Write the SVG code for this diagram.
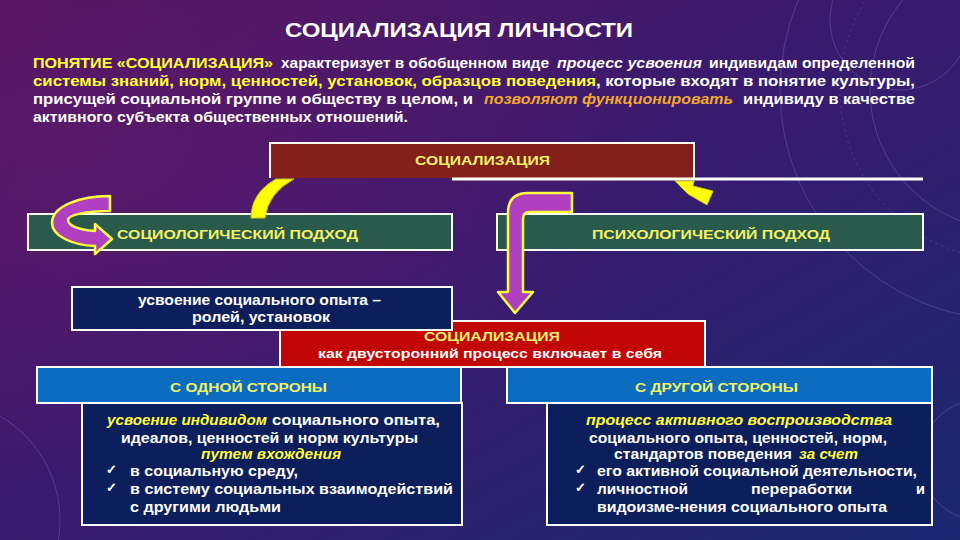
<svg xmlns="http://www.w3.org/2000/svg" width="960" height="540" viewBox="0 0 960 540">
<defs>
<linearGradient id="bg" x1="0" y1="0" x2="1" y2="1">
<stop offset="0" stop-color="#54155f"/>
<stop offset="0.45" stop-color="#3a1a6e"/>
<stop offset="1" stop-color="#1a2870"/>
</linearGradient>
<radialGradient id="glow" cx="0.1" cy="0.3" r="0.6">
<stop offset="0" stop-color="#6a1a70" stop-opacity="0.5"/>
<stop offset="1" stop-color="#6a1a70" stop-opacity="0"/>
</radialGradient>
<style>
text{font-family:"Liberation Sans",Arial,sans-serif;font-weight:bold}
.w{fill:#ffffff}
.y{fill:#ffff33}
.ly{fill:#f2f266}
.o{fill:#f0a830}
.i{font-style:italic}
.p{font-size:14px}
.b{font-size:13px}
.t{font-size:14.5px}
.box{stroke:#ffffff;stroke-width:2}
.parr{fill:#b040c0;stroke:#ffff40;stroke-width:2.5;stroke-linejoin:round}
.yarr{fill:#ffff00;stroke:#c8c800;stroke-width:1}
.deco{fill:none;stroke:#8a7ad0;stroke-opacity:0.35;stroke-width:1}
</style>
</defs>
<rect width="960" height="540" fill="url(#bg)"/>
<rect width="960" height="540" fill="url(#glow)"/>
<g id="decor">
<circle class="deco" cx="1010" cy="90" r="140"/>
<circle class="deco" cx="1010" cy="90" r="170" stroke-dasharray="2 4"/>
<circle class="deco" cx="1010" cy="90" r="230"/>
<circle class="deco" cx="900" cy="20" r="70"/>
<circle class="deco" cx="-60" cy="520" r="120"/>
<circle class="deco" cx="980" cy="460" r="60"/>
</g>

<text class="w" x="285" y="37" font-size="20" textLength="348" lengthAdjust="spacingAndGlyphs">СОЦИАЛИЗАЦИЯ ЛИЧНОСТИ</text>

<g id="intro">
<text class="p y" x="33" y="68" textLength="240" lengthAdjust="spacingAndGlyphs">ПОНЯТИЕ «СОЦИАЛИЗАЦИЯ»</text>
<text class="p w" x="281" y="68" textLength="268" lengthAdjust="spacingAndGlyphs">характеризует в обобщенном виде</text>
<text class="p w i" x="557" y="68" textLength="145" lengthAdjust="spacingAndGlyphs">процесс усвоения</text>
<text class="p w" x="709" y="68" textLength="206" lengthAdjust="spacingAndGlyphs">индивидам определенной</text>
<text class="p y" x="33" y="86" textLength="563" lengthAdjust="spacingAndGlyphs">системы  знаний,  норм,  ценностей,  установок,  образцов  поведения</text>
<text class="p w" x="596" y="86" textLength="319" lengthAdjust="spacingAndGlyphs">,  которые  входят  в  понятие  культуры,</text>
<text class="p w" x="33" y="104" textLength="440" lengthAdjust="spacingAndGlyphs">присущей  социальной  группе  и  обществу  в  целом,  и</text>
<text class="p o i" x="484" y="104" textLength="249" lengthAdjust="spacingAndGlyphs">позволяют  функционировать</text>
<text class="p w" x="743" y="104" textLength="172" lengthAdjust="spacingAndGlyphs">индивиду  в  качестве</text>
<text class="p w" x="33" y="122" textLength="375" lengthAdjust="spacingAndGlyphs">активного субъекта общественных отношений.</text>
</g>

<g id="node-sociological">
<rect class="box" x="28" y="214" width="424" height="36" fill="#2a5a4c"/>
<text class="b ly" x="117" y="239" textLength="241" lengthAdjust="spacingAndGlyphs">СОЦИОЛОГИЧЕСКИЙ ПОДХОД</text>
</g>
<g id="node-psychological">
<rect class="box" x="497" y="214" width="426" height="36" fill="#2a5a4c"/>
<text class="b ly" x="592" y="239" textLength="238" lengthAdjust="spacingAndGlyphs">ПСИХОЛОГИЧЕСКИЙ ПОДХОД</text>
</g>

<g id="connectors">
<path class="yarr" d="M251,218 Q251,193 276,179 L294,179 Q268,193 265,218 Z"/>
<polygon class="yarr" points="675,181 694,181 693,186 713,191 707,205 688,194"/>
<path class="parr" d="M110,196 L110,211 C86,211 68,215 68,220 C68,226 80,230 95,231 L95,224 L112,239 L95,254 L95,246 C72,245 52,236 52,223 C52,206 80,196 110,196 Z"/>
<path class="parr" d="M572,193 L528,193 Q508,193 508,213 L508,292 L498,292 L515,313 L533,292 L523,292 L523,219 Q523,212 530,212 L572,212 Z"/>
</g>

<g id="node-socialization">
<rect x="270" y="143" width="424" height="35" fill="#84201a"/>
<path d="M270,178 L270,143 L694,143 L694,178" fill="none" stroke="#ffffff" stroke-width="2"/>
<line x1="452" y1="179" x2="923" y2="179" stroke="#ffffff" stroke-width="3"/>
<text class="b ly" x="415" y="165" textLength="135" lengthAdjust="spacingAndGlyphs">СОЦИАЛИЗАЦИЯ</text>
</g>

<g id="node-twosided">
<rect class="box" x="280" y="321" width="425" height="46" fill="#c20606"/>
<text class="b ly" x="424" y="341" textLength="136" lengthAdjust="spacingAndGlyphs">СОЦИАЛИЗАЦИЯ</text>
<text class="b w" x="318" y="358" textLength="344" lengthAdjust="spacingAndGlyphs">как двусторонний процесс включает в себя</text>
</g>

<g id="node-experience">
<rect class="box" x="72" y="287" width="380" height="43" fill="#0c1e5c"/>
<text class="p w" x="138" y="305" textLength="243" lengthAdjust="spacingAndGlyphs">усвоение социального опыта –</text>
<text class="p w" x="192" y="322" textLength="138" lengthAdjust="spacingAndGlyphs">ролей, установок</text>
</g>

<g id="node-one-side">
<rect class="box" x="37" y="367" width="424" height="36" fill="#0b6cc0"/>
<text class="b ly" x="170" y="392" textLength="157" lengthAdjust="spacingAndGlyphs">С ОДНОЙ СТОРОНЫ</text>
</g>
<g id="node-one-side-text">
<rect class="box" x="82" y="403" width="380" height="122" fill="#0c1e5c"/>
<text class="t y i" x="107" y="425" textLength="160" lengthAdjust="spacingAndGlyphs">усвоение индивидом</text>
<text class="t w" x="272" y="425" textLength="168" lengthAdjust="spacingAndGlyphs">социального опыта,</text>
<text class="t w" x="121" y="443" textLength="297" lengthAdjust="spacingAndGlyphs">идеалов, ценностей и норм культуры</text>
<text class="t y i" x="201" y="459" textLength="140" lengthAdjust="spacingAndGlyphs">путем вхождения</text>
<text class="w" x="106" y="474" font-size="13" font-family="DejaVu Sans,sans-serif" font-weight="normal">✓</text>
<text class="t w" x="130" y="476" textLength="168" lengthAdjust="spacingAndGlyphs">в социальную среду,</text>
<text class="w" x="106" y="492" font-size="13" font-family="DejaVu Sans,sans-serif" font-weight="normal">✓</text>
<text class="t w" x="130" y="494" textLength="323" lengthAdjust="spacingAndGlyphs">в  систему  социальных  взаимодействий</text>
<text class="t w" x="130" y="512" textLength="151" lengthAdjust="spacingAndGlyphs">с другими людьми</text>
</g>

<g id="node-other-side">
<rect class="box" x="507" y="367" width="425" height="36" fill="#0b6cc0"/>
<text class="b ly" x="635" y="392" textLength="163" lengthAdjust="spacingAndGlyphs">С ДРУГОЙ СТОРОНЫ</text>
</g>
<g id="node-other-side-text">
<rect class="box" x="547" y="403" width="385" height="122" fill="#0c1e5c"/>
<text class="t y i" x="586" y="425" textLength="306" lengthAdjust="spacingAndGlyphs">процесс активного воспроизводства</text>
<text class="t w" x="589" y="443" textLength="298" lengthAdjust="spacingAndGlyphs">социального опыта, ценностей, норм,</text>
<text class="t w" x="614" y="459" textLength="178" lengthAdjust="spacingAndGlyphs">стандартов поведения</text>
<text class="t y i" x="799" y="459" textLength="59" lengthAdjust="spacingAndGlyphs">за счет</text>
<text class="w" x="575" y="474" font-size="13" font-family="DejaVu Sans,sans-serif" font-weight="normal">✓</text>
<text class="t w" x="597" y="476" textLength="320" lengthAdjust="spacingAndGlyphs">его активной социальной деятельности,</text>
<text class="w" x="575" y="492" font-size="13" font-family="DejaVu Sans,sans-serif" font-weight="normal">✓</text>
<text class="t w" x="597" y="494" textLength="91" lengthAdjust="spacingAndGlyphs">личностной</text>
<text class="t w" x="751" y="494" textLength="101" lengthAdjust="spacingAndGlyphs">переработки</text>
<text class="t w" x="916" y="494">и</text>
<text class="t w" x="597" y="512" textLength="290" lengthAdjust="spacingAndGlyphs">видоизме-нения социального опыта</text>
</g>
</svg>
